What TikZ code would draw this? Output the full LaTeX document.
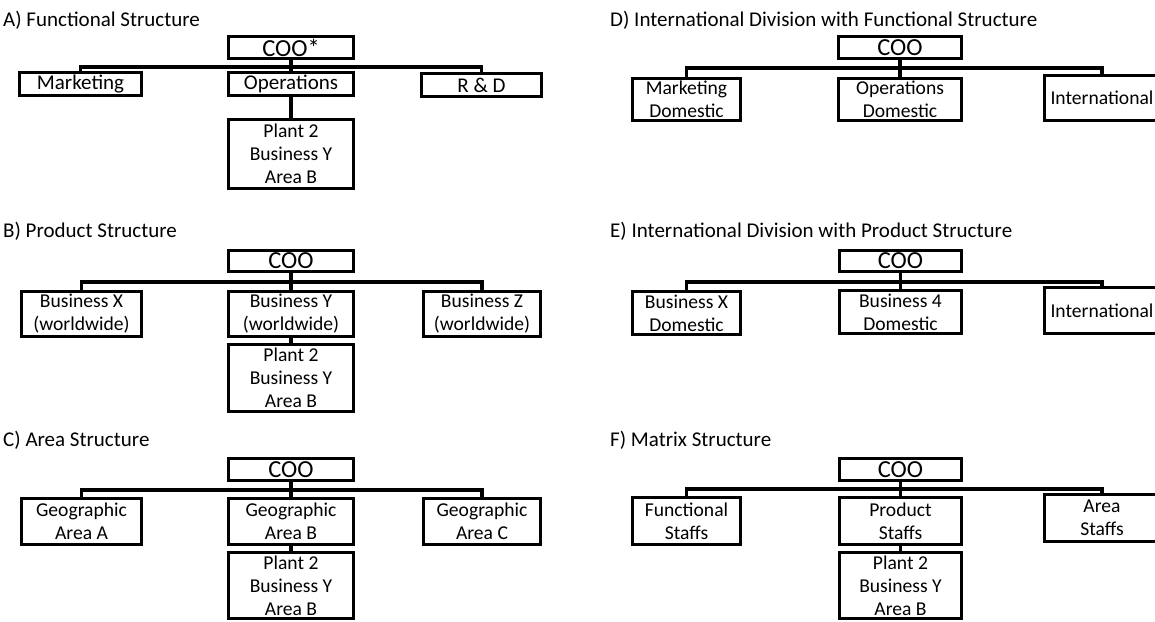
\documentclass[tikz,border=0pt]{standalone}
\usepackage{fontspec}
\setmainfont{Carlito}
\begin{document}
\begin{tikzpicture}[x=1pt,y=-1pt,
  orgbox/.style={draw, line width=3pt, inner sep=0pt, outer sep=0pt, align=center,
                 font=\fontsize{19.6}{23}\selectfont},
  bigtext/.style={font=\fontsize{21}{24}\selectfont},
  cootext/.style={font=\fontsize{24.5}{26}\selectfont},
  paneltitle/.style={anchor=base west, inner sep=0pt, font=\fontsize{21}{24}\selectfont},
  conn/.style={line width=3.5pt}]
\useasboundingbox (0,0) rectangle (1155,621);
\clip (0,0) rectangle (1155,621);

% box given by its outer corners: name, x1, y1, x2, y2, extra style, text
\newcommand\orgnode[7]{%
  \node[orgbox, #6, minimum width={#4-#2-3}, minimum height={#5-#3-3}]
    (#1) at ({(#2+#4)/2},{(#3+#5)/2}) {#7};}

% ---------- A) Functional Structure ----------
\node[paneltitle] (tA) at (3,26) {A) Functional Structure};
\orgnode{cooA}{227}{35}{355}{60}{cootext}{COO*}
\orgnode{mkA}{18}{71}{143}{97}{bigtext}{Marketing}
\orgnode{opA}{227}{71}{355}{97}{bigtext}{Operations}
\orgnode{rdA}{420}{72}{543}{98}{bigtext}{R \& D}
\orgnode{plA}{227}{118}{355}{190}{}{Plant 2\\Business Y\\Area B}
\coordinate (barA) at (291,67);
\draw[conn] (mkA.north) -- (mkA.north |- barA) -- (rdA.north |- barA) -- (rdA.north);
\draw[conn] (cooA.south) -- (opA.north);
\draw[conn] (opA.south) -- (plA.north);

% ---------- B) Product Structure ----------
\node[paneltitle] (tB) at (3,237) {B) Product Structure};
\orgnode{cooB}{227}{249}{355}{273}{cootext}{COO}
\orgnode{bxB}{20}{290}{143}{338}{}{Business X\\(worldwide)}
\orgnode{byB}{227}{290}{355}{338}{}{Business Y\\(worldwide)}
\orgnode{bzB}{422}{290}{542}{338}{}{Business Z\\(worldwide)}
\orgnode{plB}{227}{343}{355}{413}{}{Plant 2\\Business Y\\Area B}
\coordinate (barB) at (291,282);
\draw[conn] (bxB.north) -- (bxB.north |- barB) -- (bzB.north |- barB) -- (bzB.north);
\draw[conn] (cooB.south) -- (byB.north);
\draw[conn] (byB.south) -- (plB.north);

% ---------- C) Area Structure ----------
\node[paneltitle] (tC) at (3,446) {C) Area Structure};
\orgnode{cooC}{227}{457}{355}{482}{cootext}{COO}
\orgnode{gaC}{20}{497}{143}{546}{}{Geographic\\Area A}
\orgnode{gbC}{227}{497}{355}{546}{}{Geographic\\Area B}
\orgnode{gcC}{422}{497}{542}{546}{}{Geographic\\Area C}
\orgnode{plC}{227}{551}{355}{620}{}{Plant 2\\Business Y\\Area B}
\coordinate (barC) at (291,490);
\draw[conn] (gaC.north) -- (gaC.north |- barC) -- (gcC.north |- barC) -- (gcC.north);
\draw[conn] (cooC.south) -- (gbC.north);
\draw[conn] (gbC.south) -- (plC.north);

% ---------- D) International Division with Functional Structure ----------
\node[paneltitle] (tD) at (610,27) {D) International Division with Functional Structure};
\orgnode{cooD}{837}{35}{963}{60}{cootext}{COO}
\orgnode{mdD}{631}{77}{742}{122}{}{Marketing\\Domestic}
\orgnode{odD}{837}{77}{963}{122}{}{Operations\\Domestic}
\orgnode{intD}{1043}{74}{1161}{122}{}{International}
\coordinate (barD) at (900,68);
\draw[conn] (mdD.north) -- (mdD.north |- barD) -- (intD.north |- barD) -- (intD.north);
\draw[conn] (cooD.south) -- (odD.north);

% ---------- E) International Division with Product Structure ----------
\node[paneltitle] (tE) at (610,237) {E) International Division with Product Structure};
\orgnode{cooE}{838}{249}{963}{273}{cootext}{COO}
\orgnode{bxE}{631}{290}{742}{336}{}{Business X\\Domestic}
\orgnode{b4E}{838}{289}{963}{335}{}{Business 4\\Domestic}
\orgnode{intE}{1043}{286}{1161}{335}{}{International}
\coordinate (barE) at (900,282);
\draw[conn] (bxE.north) -- (bxE.north |- barE) -- (intE.north |- barE) -- (intE.north);
\draw[conn] (cooE.south) -- (b4E.north);

% ---------- F) Matrix Structure ----------
\node[paneltitle] (tF) at (610,446) {F) Matrix Structure};
\orgnode{cooF}{838}{457}{963}{482}{cootext}{COO}
\orgnode{fsF}{631}{496}{742}{546}{}{Functional\\Staffs}
\orgnode{psF}{838}{496}{963}{546}{}{Product\\Staffs}
\orgnode{asF}{1043}{493}{1161}{543}{}{Area\\Staffs}
\orgnode{plF}{838}{551}{963}{620}{}{Plant 2\\Business Y\\Area B}
\coordinate (barF) at (900,489);
\draw[conn] (fsF.north) -- (fsF.north |- barF) -- (asF.north |- barF) -- (asF.north);
\draw[conn] (cooF.south) -- (psF.north);
\draw[conn] (psF.south) -- (plF.north);
\end{tikzpicture}
\end{document}
